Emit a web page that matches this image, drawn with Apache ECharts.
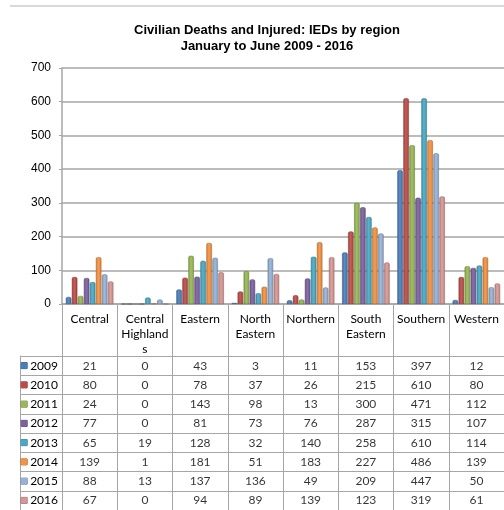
<!DOCTYPE html>
<html>
<head>
<meta charset="utf-8">
<script src="https://cdn.jsdelivr.net/npm/echarts@6/dist/echarts.min.js"></script>
<style>
  html, body { margin: 0; padding: 0; background: #fff; }
  #chart { width: 504px; height: 510px; }
</style>
</head>
<body>
<div id="chart"></div>
<script>
// regions (header row) and years (legend column)
const regions = ['Central', 'Central\nHighland\ns', 'Eastern', 'North\nEastern', 'Northern', 'South\nEastern', 'Southern', 'Western'];
const years = ['2009', '2010', '2011', '2012', '2013', '2014', '2015', '2016'];
const yTicks = [0, 100, 200, 300, 400, 500, 600, 700];

// values per year, one entry per region
const v2009 = [21, 0, 43, 3, 11, 153, 397, 12];
const v2010 = [80, 0, 78, 37, 26, 215, 610, 80];
const v2011 = [24, 0, 143, 98, 13, 300, 471, 112];
const v2012 = [77, 0, 81, 73, 76, 287, 315, 107];
const v2013 = [65, 19, 128, 32, 140, 258, 610, 114];
const v2014 = [139, 1, 181, 51, 183, 227, 486, 139];
const v2015 = [88, 13, 137, 136, 49, 209, 447, 50];
const v2016 = [67, 0, 94, 89, 139, 123, 319, 61];
const values = [v2009, v2010, v2011, v2012, v2013, v2014, v2015, v2016];

const colors = ['#4a7ebb', '#be4b48', '#98b954', '#7d60a0', '#46aac5', '#f69240', '#95b3d7', '#d99694'];

const gridCol = '#a6a6a6';
const font = 'Lato';

var myChart = echarts.init(document.getElementById('chart'), null, { renderer: 'canvas' });

// shade a hex colour (f < 0 darker, f > 0 lighter)
function shade(hex, f) {
	const n = parseInt(hex.slice(1), 16);
	let r = n >> 16, g = (n >> 8) & 255, b = n & 255;
	const t = f < 0 ? 0 : 255;
	const p = Math.abs(f);
	r = Math.round((t - r) * p + r);
	g = Math.round((t - g) * p + g);
	b = Math.round((t - b) * p + b);
	return `rgb(${r},${g},${b})`;
}

// legend column: coloured square + year
const rich = { y: { fontFamily: font, fontSize: 12, color: '#000', padding: [0, 0, 0, 3] } };
colors.forEach((c, i) => {
	rich['s' + i] = { width: 6, height: 6, backgroundColor: c, borderColor: shade(c, -0.3), borderWidth: 0.5 };
});

// table cells
const cells = [];
for (let i = 0; i < years.length; i++) {
	for (let j = 0; j < regions.length; j++) {
		cells.push([j, i, values[i][j]]);
	}
}

const series = years.map((y, i) => ({
	name: y,
	type: 'bar',
	xAxisIndex: 0,
	yAxisIndex: 0,
	barGap: '10%',
	barCategoryGap: '14%',
	data: values[i],
	itemStyle: {
		color: new echarts.graphic.LinearGradient(0, 0, 1, 0, [
			{ offset: 0, color: shade(colors[i], -0.15) },
			{ offset: 0.45, color: shade(colors[i], 0.1) },
			{ offset: 1, color: shade(colors[i], -0.12) }
		]),
		borderColor: shade(colors[i], -0.35),
		borderWidth: 0.5,
		borderRadius: [1.5, 1.5, 0, 0]
	}
}));

series.push({
	type: 'scatter',
	xAxisIndex: 1,
	yAxisIndex: 1,
	symbolSize: 1,
	itemStyle: { color: 'rgba(0,0,0,0)' },
	label: {
		show: true,
		position: 'inside',
		formatter: (p) => String(p.value[2]),
		fontFamily: font,
		fontSize: 12,
		color: '#000'
	},
	data: cells
});

var option = {
	animation: false,
	backgroundColor: '#fff',
	title: {
		text: 'Civilian Deaths and Injured: IEDs by region\nJanuary to June 2009 - 2016',
		left: 262,
		top: 17,
		textAlign: 'center',
		textStyle: {
			fontFamily: 'Liberation Sans',
			fontSize: 13,
			fontWeight: 'bold',
			lineHeight: 16,
			color: '#000'
		}
	},
	graphic: [
		{ type: 'line', shape: { x1: 10, y1: 6, x2: 504, y2: 6 }, style: { stroke: '#d9d9d9', lineWidth: 2 } }
	],
	grid: [
		{ left: 62, right: -3, top: 68, height: 236 },
		{ left: 62, right: -3, top: 356, height: 156 }
	],
	xAxis: [
		{
			type: 'category',
			gridIndex: 0,
			data: regions,
			axisLine: { lineStyle: { color: gridCol, width: 1.5 } },
			axisTick: { show: true, interval: 0, length: 52, lineStyle: { color: gridCol } },
			axisLabel: {
				interval: 0,
				margin: 8,
				fontFamily: font,
				fontSize: 12,
				lineHeight: 15,
				color: '#000',
				verticalAlign: 'top'
			},
			splitLine: { show: false }
		},
		{
			type: 'category',
			gridIndex: 1,
			position: 'top',
			data: regions,
			axisLine: { show: true, lineStyle: { color: gridCol } },
			axisTick: { show: false },
			axisLabel: { show: false },
			splitLine: { show: true, interval: 0, lineStyle: { color: gridCol } }
		}
	],
	yAxis: [
		{
			type: 'value',
			gridIndex: 0,
			min: 0,
			max: 700,
			interval: 100,
			axisLine: { show: true, lineStyle: { color: gridCol, width: 1.5 } },
			axisTick: { show: true, length: 3, lineStyle: { color: gridCol } },
			axisLabel: {
				margin: 11,
				fontFamily: 'Liberation Sans',
				fontSize: 12,
				color: '#000',
				formatter: (v) => (yTicks.indexOf(v) >= 0 ? String(v) : '')
			},
			splitLine: { lineStyle: { color: gridCol, width: 1.5 } }
		},
		{
			type: 'category',
			gridIndex: 1,
			inverse: true,
			data: years,
			axisLine: { show: true, lineStyle: { color: gridCol } },
			axisTick: { show: true, interval: 0, length: 42, lineStyle: { color: gridCol } },
			axisLabel: {
				interval: 0,
				margin: 4,
				formatter: (v, i) => `{s${i}|}{y|${v}}`,
				rich: rich
			},
			splitLine: { show: true, interval: 0, lineStyle: { color: gridCol } }
		},
		{
			type: 'category',
			gridIndex: 1,
			inverse: true,
			position: 'left',
			offset: 42,
			data: years,
			axisLine: { show: true, lineStyle: { color: gridCol } },
			axisTick: { show: false },
			axisLabel: { show: false },
			splitLine: { show: false }
		}
	],
	series: series
};

myChart.setOption(option);
</script>
</body>
</html>
